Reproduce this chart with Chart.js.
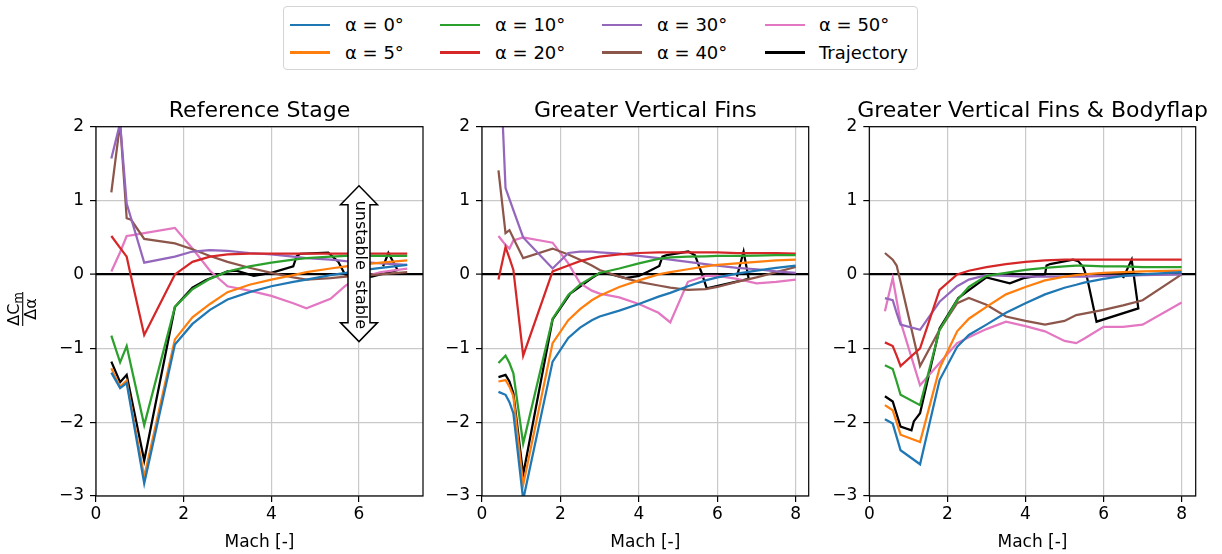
<!DOCTYPE html>
<html><head><meta charset="utf-8">
<script src="https://cdn.jsdelivr.net/npm/chart.js@4.4.1/dist/chart.umd.min.js"></script>
<style>
body{margin:0;width:1222px;height:554px;background:#fff;position:relative;overflow:hidden;font-family:"DejaVu Sans",sans-serif;}
canvas{position:absolute;}
#legend{position:absolute;left:283px;top:6px;width:635px;height:64px;border:1.2px solid #d4d4d4;border-radius:4px;box-sizing:border-box;background:#fff;}
.sw{position:absolute;height:2.4px;}
.lt{position:absolute;font-size:18px;line-height:20px;height:20px;color:#000;white-space:nowrap;}
</style></head>
<body>
<div id="legend"></div>
<canvas id="c1" width="433" height="474" style="left:0px;top:80px"></canvas>
<canvas id="c2" width="397" height="474" style="left:422px;top:80px"></canvas>
<canvas id="c3" width="413" height="474" style="left:809px;top:80px"></canvas>
<script>
// ---------- labels ----------
const seriesLabels = ['α = 0°','α = 5°','α = 10°','α = 20°','α = 30°','α = 40°','α = 50°','Trajectory'];
const panelTitles = ['Reference Stage','Greater Vertical Fins','Greater Vertical Fins & Bodyflap'];
const yTicks = [-3,-2,-1,0,1,2];
const xTicks = [0,2,4,6,8];

// ---------- Panel 1: Reference Stage ----------
const machRef = [0.35,0.55,0.7,0.8,1.1,1.8,2.2,2.6,3.0,3.5,4.0,4.5,4.8,5.35,5.7,6.0,6.5,7.1];
const ref_a0  = [-1.33,-1.54,-1.47,-1.81,-2.83,-0.95,-0.67,-0.48,-0.34,-0.24,-0.16,-0.10,-0.07,-0.01,0.02,0.05,0.09,0.13];
const ref_a5  = [-1.27,-1.52,-1.44,-1.77,-2.74,-0.88,-0.58,-0.40,-0.24,-0.14,-0.07,-0.01,0.03,0.08,0.11,0.13,0.16,0.19];
const ref_a10 = [-0.83,-1.19,-0.97,-1.24,-2.04,-0.44,-0.20,-0.06,0.04,0.11,0.16,0.20,0.22,0.24,0.25,0.25,0.25,0.25];
const ref_a20 = [0.52,0.36,0.24,-0.03,-0.82,0.00,0.17,0.24,0.27,0.28,0.28,0.28,0.28,0.28,0.28,0.28,0.28,0.28];
const ref_a30 = [1.57,2.05,0.96,0.76,0.16,0.24,0.31,0.33,0.32,0.29,0.27,0.24,0.22,0.20,0.18,0.17,0.15,0.13];
const ref_a40 = [1.11,2.05,0.76,0.74,0.48,0.42,0.34,0.25,0.17,0.09,0.02,-0.04,-0.07,-0.05,-0.03,-0.02,0.00,0.03];
const ref_a50 = [0.04,0.30,0.52,0.53,0.56,0.63,0.35,0.05,-0.16,-0.22,-0.29,-0.39,-0.46,-0.33,-0.15,-0.05,0.03,0.08];
const trajRefMach = [0.35,0.55,0.7,1.1,1.8,2.0,2.2,2.5,3.0,3.2,3.6,4.0,4.5,4.58,4.66,5.3,5.53,5.68,5.85,6.29,6.88,6.67,6.55];
const trajRefVal  = [-1.18,-1.46,-1.36,-2.52,-0.44,-0.31,-0.18,-0.08,0.04,0.05,-0.02,0.02,0.11,0.25,0.28,0.295,0.17,0.0,-0.04,-0.03,0.06,0.29,0.11];

// ---------- Panel 2: Greater Vertical Fins ----------
const machGVF = [0.42,0.6,0.7,0.8,1.05,1.8,2.2,2.5,2.8,3.0,3.5,4.0,4.5,4.8,5.25,5.7,6.0,6.5,7.0,7.5,8.0];
const gvf_a0  = [-1.59,-1.63,-1.73,-1.88,-3.05,-1.18,-0.86,-0.72,-0.62,-0.57,-0.49,-0.40,-0.30,-0.25,-0.16,-0.08,-0.04,0.01,0.05,0.09,0.12];
const gvf_a5  = [-1.45,-1.43,-1.52,-1.65,-2.85,-0.93,-0.62,-0.47,-0.35,-0.29,-0.17,-0.08,0.00,0.03,0.07,0.11,0.13,0.15,0.17,0.19,0.20];
const gvf_a10 = [-1.20,-1.10,-1.20,-1.34,-2.29,-0.60,-0.28,-0.14,-0.04,0.02,0.08,0.15,0.21,0.23,0.24,0.245,0.25,0.25,0.255,0.26,0.26];
const gvf_a20 = [-0.07,0.37,0.22,0.06,-1.10,0.04,0.12,0.18,0.22,0.24,0.27,0.29,0.30,0.30,0.30,0.30,0.30,0.29,0.29,0.29,0.28];
const gvf_a30 = [3.40,1.17,1.02,0.87,0.50,0.08,0.29,0.31,0.31,0.30,0.28,0.25,0.22,0.20,0.17,0.14,0.12,0.09,0.07,0.04,0.02];
const gvf_a40 = [1.41,0.56,0.60,0.49,0.22,0.35,0.27,0.20,0.12,0.06,-0.03,-0.10,-0.15,-0.18,-0.21,-0.20,-0.17,-0.10,-0.04,0.03,0.10];
const gvf_a50 = [0.52,0.40,0.35,0.46,0.50,0.43,0.15,-0.12,-0.22,-0.26,-0.31,-0.40,-0.52,-0.65,-0.10,-0.02,-0.02,-0.06,-0.12,-0.10,-0.07];
const trajGVFMach = [0.42,0.6,0.7,0.8,1.05,1.8,2.25,2.8,3.0,3.3,3.66,4.0,4.24,4.52,4.6,4.71,5.26,5.43,5.6,5.73,6.8,6.67,6.5];
const trajGVFVal  = [-1.39,-1.36,-1.45,-1.61,-2.71,-0.61,-0.26,-0.05,0.02,0.0,-0.05,-0.02,0.04,0.115,0.24,0.26,0.31,0.26,0.02,-0.19,-0.06,0.31,-0.03];

// ---------- Panel 3: Greater Vertical Fins & Bodyflap ----------
const machGVFB = [0.4,0.6,0.7,0.8,1.3,1.8,2.25,2.55,3.0,3.5,4.0,4.5,5.0,5.3,5.5,6.0,6.5,7.0,8.0];
const gvfb_a0  = [-1.96,-2.02,-2.20,-2.38,-2.57,-1.43,-0.98,-0.82,-0.68,-0.52,-0.39,-0.27,-0.18,-0.14,-0.11,-0.06,-0.02,0.00,0.03];
const gvfb_a5  = [-1.77,-1.84,-2.00,-2.17,-2.27,-1.27,-0.77,-0.60,-0.44,-0.27,-0.17,-0.08,-0.03,-0.01,0.00,0.02,0.03,0.04,0.05];
const gvfb_a10 = [-1.23,-1.28,-1.45,-1.63,-1.77,-0.75,-0.35,-0.17,-0.02,0.02,0.06,0.09,0.11,0.12,0.12,0.11,0.11,0.10,0.10];
const gvfb_a20 = [-0.92,-0.97,-1.10,-1.24,-1.00,-0.21,0.00,0.05,0.10,0.14,0.17,0.19,0.20,0.20,0.20,0.20,0.20,0.20,0.20];
const gvfb_a30 = [-0.32,-0.35,-0.52,-0.68,-0.75,-0.37,-0.16,-0.07,-0.01,-0.02,-0.03,-0.03,-0.03,-0.03,-0.03,-0.02,-0.02,-0.01,0.00];
const gvfb_a40 = [0.29,0.20,0.12,-0.10,-1.24,-0.75,-0.39,-0.32,-0.41,-0.57,-0.63,-0.68,-0.63,-0.55,-0.53,-0.48,-0.42,-0.35,0.00];
const gvfb_a50 = [-0.50,-0.05,-0.35,-0.64,-1.50,-1.20,-0.93,-0.85,-0.74,-0.64,-0.70,-0.77,-0.90,-0.93,-0.87,-0.71,-0.71,-0.68,-0.38];
const trajGVFBMach = [0.4,0.6,0.8,1.08,1.14,1.3,1.8,2.28,2.56,3.0,3.6,3.95,4.5,4.54,4.63,5.22,5.35,5.48,5.58,5.82,6.89,6.72,6.5];
const trajGVFBVal  = [-1.65,-1.72,-2.06,-2.11,-1.99,-1.88,-0.73,-0.32,-0.21,-0.04,-0.12,-0.05,0.0,0.12,0.14,0.2,0.18,0.1,-0.05,-0.64,-0.46,0.2,-0.05];

// ---------- styles ----------
const colors = ['#1f77b4','#ff7f0e','#2ca02c','#d62728','#9467bd','#8c564b','#e377c2','#000000'];
const FONT = '"DejaVu Sans", sans-serif';

// ---------- legend (HTML) ----------
(function(){
  const lg = document.getElementById('legend');
  const colSw = [6, 156, 318, 481];
  const colTx = [61, 211, 373, 535];
  const rowY = [18, 45.5];
  seriesLabels.forEach((lab, i) => {
    const c = Math.floor(i / 2), r = i % 2;
    const sw = document.createElement('div');
    sw.className = 'sw';
    sw.style.left = colSw[c] + 'px'; sw.style.width = '40px';
    sw.style.top = (rowY[r] - 1.2) + 'px';
    sw.style.background = colors[i];
    lg.appendChild(sw);
    const t = document.createElement('div');
    t.className = 'lt';
    t.style.left = colTx[c] + 'px'; t.style.top = (rowY[r] - 10) + 'px';
    t.textContent = lab;
    lg.appendChild(t);
  });
})();

function mkData(mach, vals) { return mach.map((m, i) => ({x: m, y: vals[i]})); }

const framePlugin = {
  id: 'frame',
  afterDatasetsDraw(chart, args, opts) {
    const {ctx, chartArea: a} = chart;
    const xs = chart.scales.x, ys = chart.scales.y;
    ctx.save();
    if (opts.arrow) {
      const cx = xs.getPixelForValue(6);
      const top = ys.getPixelForValue(1.2), bot = ys.getPixelForValue(-0.91);
      const hw = 18.5, sw = 11, hd = 19;
      ctx.beginPath();
      ctx.moveTo(cx, top);
      ctx.lineTo(cx + hw, top + hd); ctx.lineTo(cx + sw, top + hd);
      ctx.lineTo(cx + sw, bot - hd); ctx.lineTo(cx + hw, bot - hd);
      ctx.lineTo(cx, bot);
      ctx.lineTo(cx - hw, bot - hd); ctx.lineTo(cx - sw, bot - hd);
      ctx.lineTo(cx - sw, top + hd); ctx.lineTo(cx - hw, top + hd);
      ctx.closePath();
      ctx.fillStyle = '#fff'; ctx.fill();
      ctx.lineWidth = 1.5; ctx.strokeStyle = '#000'; ctx.lineJoin = 'miter'; ctx.stroke();
      ctx.fillStyle = '#000';
      ctx.font = '16px ' + FONT;
      ctx.textAlign = 'center'; ctx.textBaseline = 'middle';
      [['unstable', 0.53], ['stable', -0.41]].forEach(([t, v]) => {
        ctx.save();
        ctx.translate(cx + 1, ys.getPixelForValue(v));
        ctx.rotate(Math.PI / 2);
        ctx.fillText(t, 0, 0);
        ctx.restore();
      });
    }
    ctx.strokeStyle = '#000'; ctx.lineWidth = 1.2;
    ctx.strokeRect(a.left, a.top, a.right - a.left, a.bottom - a.top);
    ctx.restore();
  },
  afterDraw(chart, args, opts) {
    const {ctx, chartArea: a} = chart;
    ctx.save();
    ctx.fillStyle = '#000';
    ctx.font = '22px ' + FONT;
    ctx.textAlign = 'center'; ctx.textBaseline = 'alphabetic';
    ctx.fillText(opts.title, (a.left + a.right) / 2, 36.5);
    if (opts.ylabel) {
      ctx.translate(22.7, 229);
      ctx.rotate(-Math.PI / 2);
      ctx.textBaseline = 'alphabetic'; ctx.textAlign = 'left';
      ctx.font = '16px ' + FONT;
      const w1 = ctx.measureText('ΔC').width;
      ctx.font = '11.5px ' + FONT;
      const w2 = ctx.measureText('m').width;
      const wn = w1 + w2;
      ctx.font = '16px ' + FONT;
      ctx.fillText('ΔC', -wn / 2, -4);
      ctx.font = '11.5px ' + FONT;
      ctx.fillText('m', -wn / 2 + w1, -0.8);
      ctx.font = '16px ' + FONT;
      const wd = ctx.measureText('Δα').width;
      ctx.fillText('Δα', -wd / 2, 13.5);
      ctx.beginPath();
      ctx.moveTo(-17, 0); ctx.lineTo(17, 0);
      ctx.lineWidth = 1.1; ctx.strokeStyle = '#000'; ctx.stroke();
    }
    ctx.restore();
  }
};

function makePanel(id, title, mach, series, trajM, trajV, xmax, yW, padR, opts) {
  const datasets = series.map((vals, i) => ({
    label: seriesLabels[i], data: mkData(mach, vals),
    borderColor: colors[i], backgroundColor: colors[i],
    borderWidth: 2.25, pointRadius: 0, tension: 0, fill: false
  }));
  datasets.push({
    label: seriesLabels[7], data: mkData(trajM, trajV),
    borderColor: colors[7], backgroundColor: colors[7],
    borderWidth: 2.25, pointRadius: 0, tension: 0, fill: false
  });
  const tickFont = {family: FONT, size: 17};
  new Chart(document.getElementById(id), {
    type: 'line',
    data: {datasets},
    plugins: [framePlugin],
    options: {
      responsive: false, animation: false, devicePixelRatio: 1, events: [],
      layout: {padding: {top: 46.7, right: padR, bottom: 0, left: 0}},
      plugins: {
        legend: {display: false}, tooltip: {enabled: false},
        frame: {title: title, ylabel: opts.ylabel, arrow: opts.arrow}
      },
      scales: {
        x: {
          type: 'linear', min: 0, max: xmax,
          afterBuildTicks: s => { s.ticks = xTicks.filter(v => v <= xmax).map(v => ({value: v})); },
          ticks: {font: tickFont, color: '#000', padding: 2, maxRotation: 0, autoSkip: false, includeBounds: false},
          grid: {color: '#c9c9c9', lineWidth: 1.2, tickColor: '#000', tickLength: 6, tickWidth: 1.2},
          border: {display: false},
          title: {display: true, text: 'Mach [-]', font: {family: FONT, size: 17}, color: '#000', padding: {top: 0, bottom: 1.5}},
          afterFit: s => { s.height = 58; }
        },
        y: {
          type: 'linear', min: -3, max: 2,
          afterBuildTicks: s => { s.ticks = yTicks.map(v => ({value: v})); },
          ticks: {font: tickFont, color: '#000', padding: 6, autoSkip: false, includeBounds: false,
                  callback: v => String(v).replace('-', '\u2212')},
          grid: {
            color: c => (c.tick && c.tick.value === 0) ? '#000' : '#c9c9c9',
            lineWidth: c => (c.tick && c.tick.value === 0) ? 2.2 : 1.2,
            tickColor: '#000', tickLength: 6, tickWidth: 1.2
          },
          border: {display: false},
          afterFit: s => { s.width = yW; }
        }
      }
    }
  });
}

makePanel('c1', panelTitles[0], machRef,
  [ref_a0, ref_a5, ref_a10, ref_a20, ref_a30, ref_a40, ref_a50], trajRefMach, trajRefVal,
  7.46, 96, 10, {ylabel: true, arrow: true});
makePanel('c2', panelTitles[1], machGVF,
  [gvf_a0, gvf_a5, gvf_a10, gvf_a20, gvf_a30, gvf_a40, gvf_a50], trajGVFMach, trajGVFVal,
  8.33, 60, 10.3, {});
makePanel('c3', panelTitles[2], machGVFB,
  [gvfb_a0, gvfb_a5, gvfb_a10, gvfb_a20, gvfb_a30, gvfb_a40, gvfb_a50], trajGVFBMach, trajGVFBVal,
  8.36, 60.3, 26.3, {});
</script>
</body></html>
